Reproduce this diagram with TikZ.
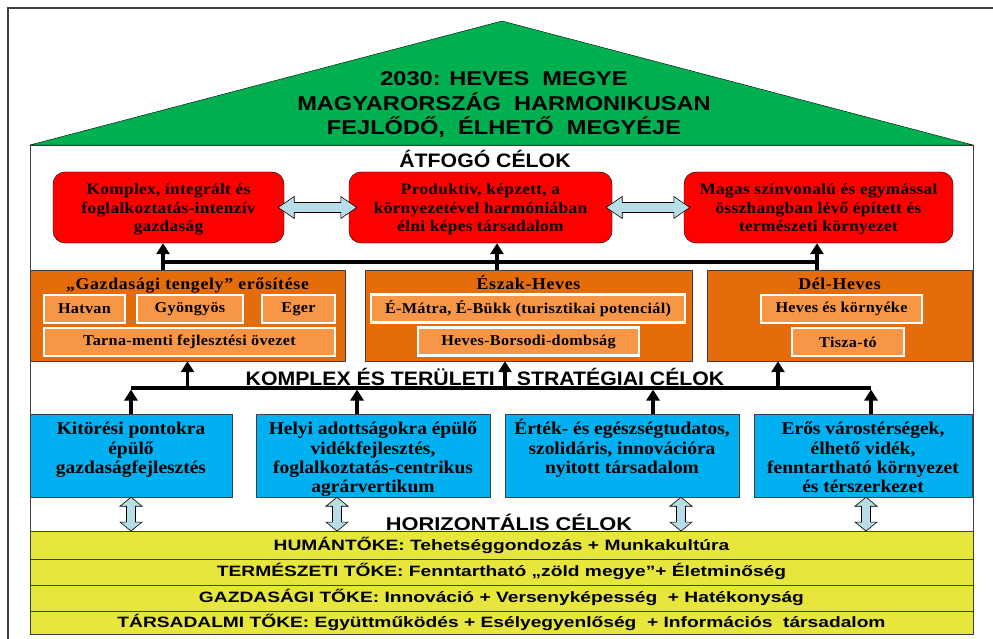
\documentclass[tikz,border=0pt]{standalone}
\usepackage{fontspec}
\setmainfont[FakeStretch=1.08]{Liberation Serif}
\newfontfamily\titlefont[FakeStretch=1.18]{Liberation Sans}
\newfontfamily\headfont[FakeStretch=1.09]{Liberation Sans}
\newfontfamily\rowfont[FakeStretch=1.28]{Liberation Sans}
\usetikzlibrary{arrows.meta,calc,positioning}

\definecolor{roofgreen}{RGB}{0,176,80}
\definecolor{goalred}{RGB}{255,0,0}
\definecolor{areaorange}{RGB}{228,108,10}
\definecolor{spotorange}{RGB}{247,150,70}
\definecolor{stratblue}{RGB}{0,176,240}
\definecolor{rowyellow}{RGB}{230,230,60}
\definecolor{arrowblue}{RGB}{183,222,232}
\definecolor{framegray}{RGB}{64,64,64}

\tikzset{
  goalbox/.style={draw=black, fill=goalred, rounded corners=12pt, inner sep=0pt, minimum height=71pt},
  goaltext/.style={align=center, inner sep=0pt, anchor=base,
    font={\fontsize{16}{18.5}\selectfont\bfseries\addfontfeature{LetterSpace=2}}},
  areabox/.style={draw=framegray, fill=areaorange, inner sep=0pt, minimum height=91pt},
  areatitle/.style={anchor=base, inner sep=0pt,
    font={\fontsize{16.5}{18}\selectfont\bfseries\addfontfeature{LetterSpace=4}}},
  spotbox/.style={draw=white, line width=2.5pt, fill=spotorange, inner sep=0pt,
    minimum height=28pt, font={\fontsize{15}{17}\selectfont\bfseries\addfontfeature{LetterSpace=2}}},
  stratbox/.style={draw=framegray, fill=stratblue, inner sep=0pt, minimum height=83pt},
  strattext/.style={align=center, inner sep=0pt, anchor=base, font=\fontsize{18}{19.2}\selectfont\bfseries},
  rowbar/.style={draw=framegray, fill=rowyellow, inner sep=0pt, minimum width=943pt,
    font=\rowfont\fontsize{15}{17}\selectfont\bfseries},
  headtext/.style={anchor=base, inner sep=0pt, font=\headfont\fontsize{19.5}{22}\selectfont\bfseries},
  uparrow/.style={line width=3.5pt, -{Triangle[width=13pt,length=11pt]}},
  busline/.style={line width=3.5pt},
  blockarrow/.style={draw=black, fill=arrowblue, line width=0.6pt}
}

% light blue double block arrows
\newcommand{\hdblarrow}[2]{%
  \draw[blockarrow] (#1) -- ($(#1)+(16,-11)$) -- ($(#1)+(16,-5)$) -- ($(#2)+(-16,-5)$)
    -- ($(#2)+(-16,-11)$) -- (#2) -- ($(#2)+(-16,11)$) -- ($(#2)+(-16,5)$)
    -- ($(#1)+(16,5)$) -- ($(#1)+(16,11)$) -- cycle;}
\newcommand{\vdblarrow}[2]{%
  \draw[blockarrow] (#1) -- ($(#1)+(11,9)$) -- ($(#1)+(4.5,9)$) -- ($(#2)+(4.5,-9)$)
    -- ($(#2)+(11,-9)$) -- (#2) -- ($(#2)+(-11,-9)$) -- ($(#2)+(-4.5,-9)$)
    -- ($(#1)+(-4.5,9)$) -- ($(#1)+(-11,9)$) -- cycle;}

\begin{document}
\begin{tikzpicture}[x=1pt,y=-1pt]
\useasboundingbox (0,0) rectangle (993,639);

% frame, house and roof
\draw[framegray, line width=2pt] (8,8) rectangle (1000,650);
\draw[framegray] (30,145) rectangle (973,633);
\filldraw[fill=roofgreen, draw=black] (30,145) -- (502,21) -- (973,145) -- cycle;
\node[align=center, inner sep=0pt, font=\titlefont\fontsize{20}{24.5}\selectfont\bfseries]
  (vision) at (504,105) {2030: HEVES\ \ MEGYE\\ MAGYARORSZÁG\ \ HARMONIKUSAN\\ FEJLŐDŐ,\ \ ÉLHETŐ\ \ MEGYÉJE};

% overall goals (text base = last line)
\node[headtext] (overall) at (485,168) {ÁTFOGÓ CÉLOK};
\node[goalbox, minimum width=231pt] (r1) at (168.5,207.5) {};
\node[goalbox, minimum width=263pt] (r2) at (480.5,207.5) {};
\node[goalbox, minimum width=269pt] (r3) at (818.5,207.5) {};
\node[goaltext] (r1text) at ($(r1.north)+(0,60)$) {Komplex, integrált és\\ foglalkoztatás-intenzív\\ gazdaság};
\node[goaltext] (r2text) at ($(r2.north)+(0,60)$) {Produktív, képzett, a\\ környezetével harmóniában\\ élni képes társadalom};
\node[goaltext] (r3text) at ($(r3.north)+(0,60)$) {Magas színvonalú és egymással\\ összhangban lévő épített és\\ természeti környezet};

\coordinate (h1a) at ($(r1.east)+(-6,0)$);
\coordinate (h1b) at ($(r2.west)+(8,0)$);
\coordinate (h2a) at ($(r2.east)+(-6,0)$);
\coordinate (h2b) at ($(r3.west)+(6,0)$);
\hdblarrow{h1a}{h1b}
\hdblarrow{h2a}{h2b}

% territorial areas
\node[areabox, minimum width=315pt] (o1) at (187.5,315.5) {};
\node[areabox, minimum width=327pt] (o2) at (528.5,315.5) {};
\node[areabox, minimum width=265pt] (o3) at (839.5,315.5) {};
\node[areatitle] (o1title) at ($(o1.north)+(0,20)$) {„Gazdasági tengely” erősítése};
\node[areatitle] (o2title) at ($(o2.north)+(0,20)$) {Észak-Heves};
\node[areatitle] (o3title) at ($(o3.north)+(0,20)$) {Dél-Heves};

\node[spotbox, minimum width=81pt] (hatvan) at (84.5,309) {Hatvan};
\node[spotbox, minimum width=106pt] (gyongyos) at (190,309) {Gyöngyös};
\node[spotbox, minimum width=73pt] (eger) at (298.5,309) {Eger};
\node[spotbox, minimum width=291pt] (tarna) at (189.5,342) {Tarna-menti fejlesztési övezet};
\node[spotbox, minimum width=314pt] (matra) at (528,308.5) {É-Mátra, É-Bükk (turisztikai potenciál)};
\node[spotbox, minimum width=221pt] (borsodi) at (528.5,341.5) {Heves-Borsodi-dombság};
\node[spotbox, minimum width=161pt] (heves) at (841.5,309) {Heves és környéke};
\node[spotbox, minimum width=112pt] (tisza) at (848,342) {Tisza-tó};

% arrows up to the overall goals
\coordinate (topbus) at (0,262);
\coordinate (u1) at ($(r1.south)+(-5.5,0)$);
\coordinate (u2) at ($(r2.south)+(16.5,0)$);
\coordinate (u3) at ($(r3.south)+(-1.5,0)$);
\draw[uparrow] (o1.north -| u1) -- (u1);
\draw[uparrow] (o2.north -| u2) -- (u2);
\draw[uparrow] (o3.north -| u3) -- (u3);
\draw[busline] (u1 |- topbus) -- (u3 |- topbus);

% strategic goals
\node[headtext] (spatial) at (485,385) {KOMPLEX ÉS TERÜLETI\hspace{22pt}STRATÉGIAI CÉLOK};
\node[stratbox, minimum width=202pt] (b1) at (131,455.5) {};
\node[stratbox, minimum width=234pt] (b2) at (373,455.5) {};
\node[stratbox, minimum width=234pt] (b3) at (622,455.5) {};
\node[stratbox, minimum width=218pt] (b4) at (863,455.5) {};
\node[strattext] (b1text) at ($(b1.north)+(0,59.4)$) {Kitörési pontokra\\ épülő\\ gazdaságfejlesztés};
\node[strattext] (b2text) at ($(b2.north)+(0,78.6)$) {Helyi adottságokra épülő\\ vidékfejlesztés,\\ foglalkoztatás-centrikus\\ agrárvertikum};
\node[strattext] (b3text) at ($(b3.north)+(0,59.4)$) {Érték- és egészségtudatos,\\ szolidáris, innovációra\\ nyitott társadalom};
\node[strattext] (b4text) at ($(b4.north)+(0,78.6)$) {Erős várostérségek,\\ élhető vidék,\\ fenntartható környezet\\ és térszerkezet};

\coordinate (lowbus) at (0,388);
\coordinate (s1) at (b1.north);
\coordinate (s2) at ($(b2.north)+(-16,0)$);
\coordinate (s3) at ($(b3.north)+(31,0)$);
\coordinate (s4) at ($(b4.north)+(8,0)$);
\coordinate (a1) at (o1.south);
\coordinate (a2) at ($(o2.south)+(-23.5,0)$);
\coordinate (a3) at ($(o3.south)+(-61.5,0)$);
\foreach \s in {s1,s2,s3,s4}
  \draw[uparrow] (\s) -- ($(\s |- lowbus)+(0,1.5)$);
\draw[busline] (s1 |- lowbus) -- (s4 |- lowbus);
\foreach \a in {a1,a2,a3}
  \draw[uparrow] (\a |- lowbus) -- (\a);

% horizontal goals
\node[headtext, font=\titlefont\fontsize{18.5}{20}\selectfont\bfseries] (horizontal) at (509,530) {HORIZONTÁLIS CÉLOK};
\node[rowbar, minimum height=27.5pt] (hum) at (501.5,545) {HUMÁNTŐKE: Tehetséggondozás + Munkakultúra};
\node[rowbar, minimum height=26pt] (ter) at (501.5,571.75) {TERMÉSZETI TŐKE: Fenntartható „zöld megye”+ Életminőség};
\node[rowbar, minimum height=26pt] (gaz) at (501.5,597.75) {GAZDASÁGI TŐKE: Innováció + Versenyképesség\ \ + Hatékonyság};
\node[rowbar, minimum height=23pt] (tar) at (501.5,622.25) {TÁRSADALMI TŐKE: Együttműködés + Esélyegyenlőség\ \ + Információs\ \ társadalom};

\coordinate (v1) at (b1.south);
\coordinate (v2) at ($(b2.south)+(-36,0)$);
\coordinate (v3) at ($(b3.south)+(59,0)$);
\coordinate (v4) at ($(b4.south)+(3,0)$);
\foreach \v in {v1,v2,v3,v4}{
  \coordinate (vend) at (\v |- hum.north);
  \vdblarrow{\v}{vend}
}

\end{tikzpicture}
\end{document}
